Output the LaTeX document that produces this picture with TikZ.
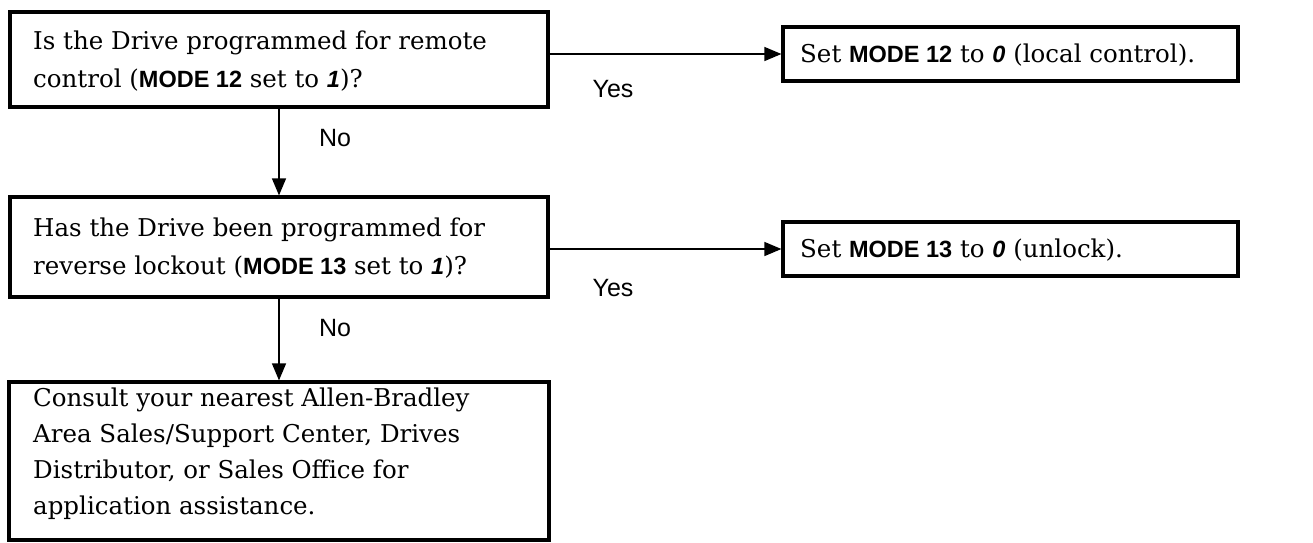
\documentclass[tikz,border=0pt]{standalone}
\usepackage{fontspec}
\setmainfont{DejaVu Serif}
\newfontfamily\sansf{Liberation Sans}
\usetikzlibrary{arrows.meta}
\newcommand\modeb[1]{{\sansf\fontsize{23.5}{38}\selectfont\bfseries #1}}
\newcommand\digb[1]{{\sansf\fontsize{23.5}{38}\selectfont\bfseries\itshape #1}}
\begin{document}
\begin{tikzpicture}[x=1pt,y=-1pt,
  box/.style={draw, line width=3.2pt, inner sep=0pt},
  arr/.style={-{Triangle[length=17pt,width=14pt]}, line width=1.3pt},
  lbl/.style={font=\sansf\fontsize{25}{28}\selectfont, inner sep=0pt},
  txt/.style={anchor=west, align=left, inner sep=0pt, font=\fontsize{24.5}{38}\selectfont}]
\useasboundingbox (0,0) rectangle (1313,542);
\fill[white] (0,0) rectangle (1313,542);
% boxes
\node[box, minimum width=538pt, minimum height=95pt] (q1) at (279,59.5) {};
\node[box, minimum width=538pt, minimum height=100pt] (q2) at (279,247) {};
\node[box, minimum width=540pt, minimum height=158pt] (q3) at (279,461) {};
\node[box, minimum width=455pt, minimum height=54pt] (r1) at (1010.5,54) {};
\node[box, minimum width=455pt, minimum height=54pt] (r2) at (1010.5,249) {};
% texts
\node[txt] (t1) at (33,61) {Is the Drive programmed for remote\\control (\modeb{MODE 12} set to \digb{1})?};
\node[txt] (t2) at (33,248) {Has the Drive been programmed for\\reverse lockout (\modeb{MODE 13} set to \digb{1})?};
\node[txt, font=\fontsize{24.5}{36}\selectfont] (t3) at (33,454) {Consult your nearest Allen-Bradley\\Area Sales/Support Center, Drives\\Distributor, or Sales Office for\\application assistance.};
\node[txt] (t4) at (800,55) {Set \modeb{MODE 12} to \digb{0} (local control).};
\node[txt] (t5) at (800,250) {Set \modeb{MODE 13} to \digb{0} (unlock).};
% connectors
\draw[arr] (q1.south) -- (q2.north);
\draw[arr] (q2.south) -- (q3.north);
\draw[arr] (q1.east |- r1.west) -- (r1.west);
\draw[arr] (q2.east |- r2.west) -- (r2.west);
% labels
\node[lbl] (n1) at (335,138) {No};
\node[lbl] (n2) at (335,328) {No};
\node[lbl] (y1) at (613,89) {Yes};
\node[lbl] (y2) at (613,288) {Yes};
\end{tikzpicture}
\end{document}
